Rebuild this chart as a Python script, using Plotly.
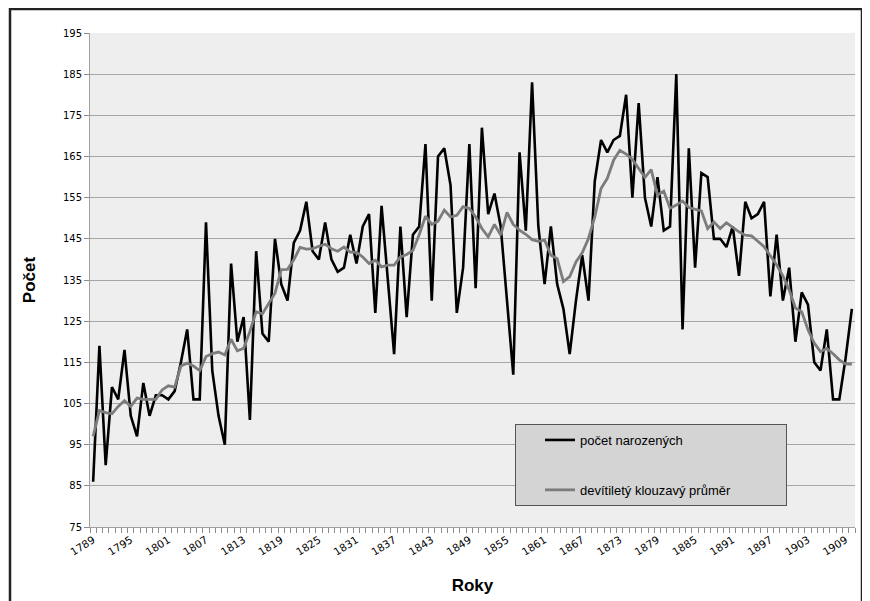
import plotly.graph_objects as go

years = list(range(1789, 1911))

births = [86, 119, 90, 109, 106, 118, 102, 97, 110, 102,
          107, 107, 106, 108, 115, 123, 106, 106, 149, 113,
          102, 95, 139, 120, 126, 101, 142, 122, 120, 145,
          134, 130, 144, 147, 154, 142, 140, 149, 140, 137,
          138, 146, 139, 148, 151, 127, 153, 135, 117, 148,
          126, 146, 148, 168, 130, 165, 167, 158, 127, 138,
          168, 133, 172, 151, 156, 148, 131, 112, 166, 147,
          183, 148, 134, 148, 134, 128, 117, 130, 141, 130,
          159, 169, 166, 169, 170, 180, 155, 178, 155, 148,
          160, 147, 148, 185, 123, 167, 138, 161, 160, 145,
          145, 143, 148, 136, 154, 150, 151, 154, 131, 146,
          130, 138, 120, 132, 129, 115, 113, 123, 106, 106,
          116, 128]

moving_avg = [97, 103.3, 102.8, 102.5, 104.3, 105.7, 104.3, 106.3, 106, 106,
              106, 108.3, 109.3, 109, 114.1, 114.8, 114.1, 113, 116.4, 117.1,
              117.5, 116.8, 120.6, 117.8, 118.4, 122.5, 127.3, 126.8, 129.2, 131.8,
              137.5, 137.6, 139.9, 142.9, 142.5, 142.6, 143.2, 143.7, 142.6, 142,
              143, 141.8, 141.7, 140.6, 139, 139.8, 138.2, 138.6, 138.6, 140.6,
              141.2, 142.2, 146, 150.5, 148.5, 149.3, 152, 150.3, 150.7, 152.8,
              152.4, 150.3, 147.5, 145.5, 148.5, 145.9, 151.4, 148.5, 147.1, 146.1,
              144.8, 144.4, 144.7, 141, 140.2, 134.6, 135.8, 139.4, 141.6, 145.1,
              150.3, 157.2, 159.7, 164.1, 166.5, 165.6, 164.3, 162.1, 159.9, 161.8,
              155.6, 156.6, 152.4, 153.2, 154.2, 152.6, 152.2, 151.8, 147.5, 149.1,
              147.5, 148.9, 147.8, 146.7, 145.9, 145.7, 144.4, 143.1, 140.9, 138.7,
              136, 132.6, 128.2, 127.3, 122.9, 119.7, 117.6, 118.4, 117.1, 115.6,
              114.6, 114.6]

series_names = ["počet narozených", "devítiletý klouzavý průměr"]
x_tick_years = list(range(1789, 1911, 6))
y_ticks = list(range(75, 196, 10))

pad = "\u00a0" * 14

fig = go.Figure()
fig.add_trace(go.Scatter(x=years, y=births, mode="lines", name=series_names[0] + pad,
                         line=dict(color="#000000", width=2.6), legendgroup="a"))
fig.add_trace(go.Scatter(x=years, y=moving_avg, mode="lines", name=series_names[1] + pad,
                         line=dict(color="#7c7c7c", width=2.8), legendgroup="b"))

# page body has an 8px margin; work in figure coordinates
OFF = 8
W, H = 870 - OFF, 601 - OFF
L, R, T, B = 90 - OFF, 855 - OFF, 33 - OFF, 527 - OFF

def px2paper_x(px):
    return (px - OFF - L) / (R - L)

def px2paper_y(py):
    return (B - (py - OFF)) / (B - T)

fig.update_layout(
    width=W, height=H,
    margin=dict(l=L, r=W - R, t=T, b=H - B, pad=0, autoexpand=False),
    paper_bgcolor="white",
    plot_bgcolor="#eeeeee",
    font=dict(family="DejaVu Sans", color="#000000", size=10),
    showlegend=True,
    legend=dict(
        x=px2paper_x(515), y=px2paper_y(424), xanchor="left", yanchor="top",
        bgcolor="#d4d4d4", bordercolor="#555555", borderwidth=1,
        font=dict(family="Liberation Sans", size=13, color="#000000"),
        tracegroupgap=30, itemwidth=30, indentation=24,
    ),
    xaxis=dict(
        range=[1788.5, 1910.5], automargin=False,
        tickmode="array", tickvals=x_tick_years, ticktext=[str(v) for v in x_tick_years],
        ticks="", tickangle=-32, ticklabelstandoff=2,
        tickfont=dict(family="DejaVu Sans", size=10.5, color="#000"),
        showgrid=False, zeroline=False,
        showline=True, linecolor="#a0a0a0", linewidth=1,
        minor=dict(tickmode="linear", tick0=1788.5, dtick=1, ticks="outside",
                   ticklen=5, tickcolor="#8c8c8c", showgrid=False),
        title=dict(text="<b>Roky</b>", font=dict(family="Liberation Sans", size=17), standoff=22),
    ),
    yaxis=dict(
        range=[75, 195], automargin=False,
        tickmode="array", tickvals=y_ticks,
        ticks="outside", ticklen=5, tickcolor="#8c8c8c",
        tickfont=dict(family="DejaVu Sans", size=10, color="#000"),
        showgrid=True, gridcolor="#a6a6a6", gridwidth=1,
        zeroline=False, showline=True, linecolor="#a0a0a0", linewidth=1,
        title=dict(text="<b>Počet</b>", font=dict(family="Liberation Sans", size=17), standoff=22),
    ),
)

fig.add_shape(type="rect", xref="paper", yref="paper",
              x0=px2paper_x(10), x1=px2paper_x(862), y0=px2paper_y(606), y1=px2paper_y(9),
              line=dict(color="#222222", width=2.5), fillcolor="rgba(0,0,0,0)", layer="above")

fig.write_html("out.html")
